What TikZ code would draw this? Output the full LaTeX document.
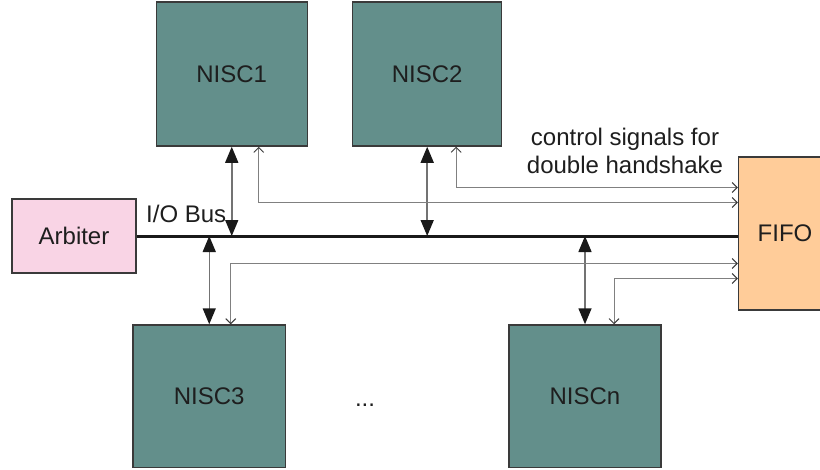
\documentclass[tikz,border=0pt]{standalone}
\usepackage{fontspec}
\setmainfont{Liberation Sans}
\usetikzlibrary{arrows.meta,calc}
\definecolor{teal1}{HTML}{638F8B}
\definecolor{pink1}{HTML}{F9D4E5}
\definecolor{orange1}{HTML}{FFCC99}
\definecolor{edge1}{HTML}{3A3A3A}
\definecolor{txt1}{HTML}{1E1E1E}
\begin{document}
\begin{tikzpicture}[x=1pt,y=-1pt,
  font=\fontsize{24}{28}\selectfont,
  box/.style={draw=edge1,line width=1.5pt,inner sep=0pt,text=txt1},
  nisc/.style={box,fill=teal1,minimum width=151pt,minimum height=144pt},
  bus/.style={line width=3pt,draw=black!90},
  dataarrow/.style={draw=gray!90!black,line width=1.5pt,
    {Triangle[length=16pt,width=13pt,color=black!90]}-{Triangle[length=16pt,width=13pt,color=black!90]}},
  ctrl/.style={draw=gray,line width=0.9pt,
    {Straight Barb[length=5pt,width=10pt,color=edge1]}-{Straight Barb[length=5pt,width=10pt,color=edge1]}},
  lbl/.style={text=txt1,inner sep=0pt}]
\clip (0,0) rectangle (820,469);
\fill[white] (0,0) rectangle (820,469);
% boxes
\node[nisc] (nisc1) at (231.75,74) {NISC1};
\node[nisc,minimum width=149pt] (nisc2) at (427.2,74) {NISC2};
\node[nisc,minimum width=152.5pt,minimum height=142.5pt] (nisc3) at (209.25,396.25) {NISC3};
\node[nisc,minimum width=152pt,minimum height=142.5pt] (niscn) at (585,396.25) {NISCn};
\node[box,fill=pink1,minimum width=124pt,minimum height=74pt] (arbiter) at (74,236) {Arbiter};
\node[box,fill=orange1,minimum width=93pt,minimum height=153pt] (fifo) at (785,233.5) {FIFO};
% labels
\node[lbl,anchor=west] (iobus) at (146,214) {I/O Bus};
\node[lbl,align=center] (ctrltext) at (625,151) {control signals for\\double handshake};
\node[lbl] (dots) at (365,405) {...};
% bus
\coordinate (busend) at (arbiter.east -| fifo.west);
\draw[bus] (arbiter.east) -- (busend);
% data arrows
\draw[dataarrow] (nisc1.south) -- (nisc1.south |- arbiter.east);
\draw[dataarrow] (nisc2.south) -- (nisc2.south |- arbiter.east);
\draw[dataarrow] (nisc3.north |- arbiter.east) -- (nisc3.north);
\draw[dataarrow] (niscn.north |- arbiter.east) -- (niscn.north);
% control signals
\coordinate (c1) at ($(nisc1.south)+(27,0)$);
\coordinate (c2) at ($(nisc2.south)+(29,0)$);
\coordinate (c3) at ($(nisc3.north)+(21.5,0)$);
\coordinate (c4) at ($(niscn.north)+(29,0)$);
\draw[ctrl] (c1) |- ($(fifo.west)+(0,-31)$);
\draw[ctrl] (c2) |- ($(fifo.west)+(0,-46)$);
\draw[ctrl] (c3) |- ($(fifo.west)+(0,30)$);
\draw[ctrl] (c4) |- ($(fifo.west)+(0,45)$);
\end{tikzpicture}
\end{document}
